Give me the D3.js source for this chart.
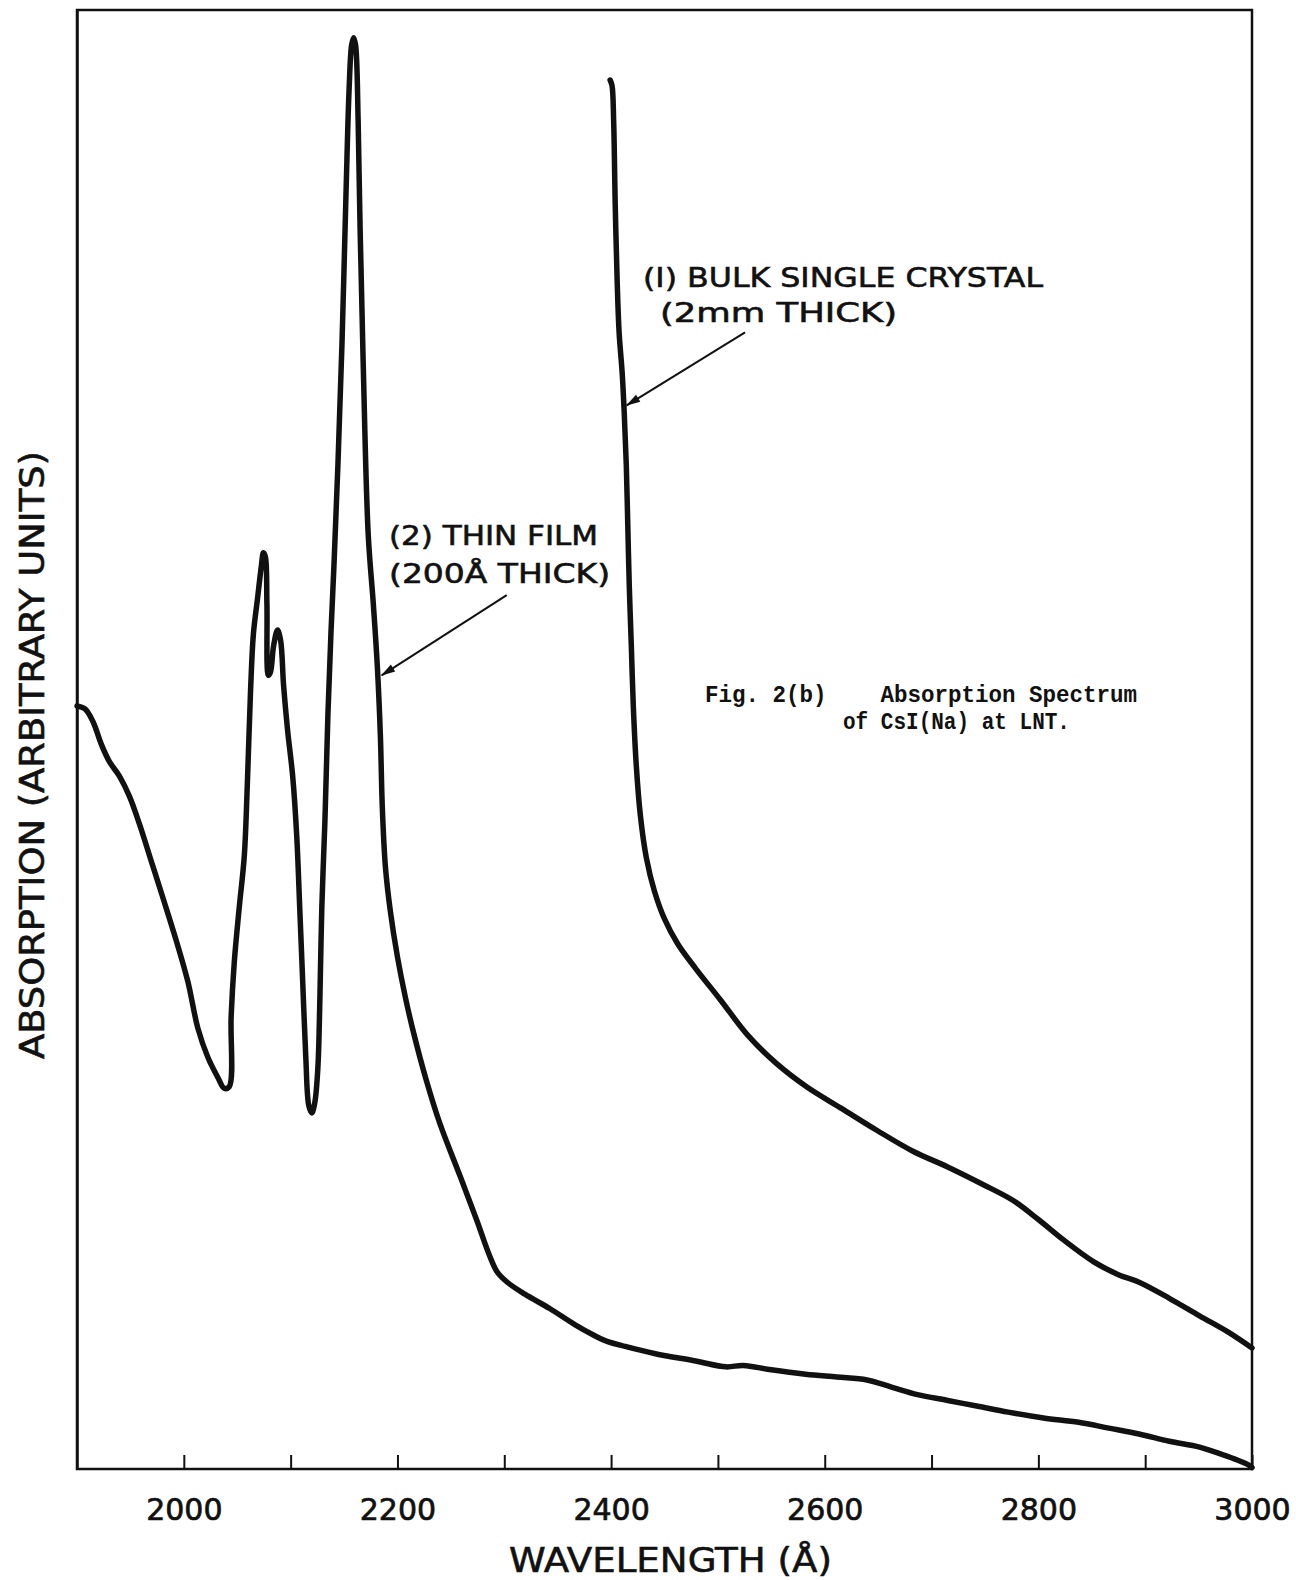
<!DOCTYPE html>
<html>
<head>
<meta charset="utf-8">
<script src="https://cdn.jsdelivr.net/npm/d3@7"></script>
<style>
  html, body { margin: 0; padding: 0; background: #fff; }
  svg { display: block; }
</style>
</head>
<body>
<div id="chart"></div>
<script>
// Absorption spectrum of CsI(Na) at liquid-nitrogen temperature.
// Wavelengths in Angstrom, absorption in arbitrary units (0 = baseline, 100 = top of frame).

// (2) thin film, 200 Å thick
const filmWavelength = [1900, 1907.5, 1915.1, 1922.6, 1930.2, 1939.6, 1949.1, 1958.5, 1969.8, 1981.1,
  1993.4, 2003.8, 2013.2, 2022.6, 2032.1, 2037.7, 2042.5, 2044.3, 2047.2, 2051.9,
  2056.6, 2059.4, 2062.3, 2065.1, 2068.9, 2072.6, 2074.5, 2076.4, 2077.8, 2079.2,
  2081.1, 2084.0, 2087.7, 2090.6, 2093.4, 2097.2, 2101.9, 2105.7, 2108.5, 2111.3,
  2114.2, 2117.0, 2119.8, 2122.6, 2125.5, 2127.4, 2129.2, 2132.1, 2134.9, 2137.7,
  2140.6, 2144.3, 2148.1, 2151.9, 2154.7, 2157.1, 2159.0, 2160.8, 2163.2, 2165.1,
  2167.9, 2172.6, 2177.4, 2181.1, 2184.0, 2185.8, 2188.7, 2193.4, 2200.0, 2207.5,
  2215.1, 2226.4, 2239.6, 2258.5, 2274.5, 2285.8, 2293.4, 2302.8, 2318.9, 2342.5,
  2366.0, 2383.0, 2394.3, 2413.2, 2441.5, 2479.2, 2507.5, 2523.6, 2550.0, 2582.1,
  2611.3, 2639.6, 2663.2, 2686.8, 2715.1, 2743.4, 2771.7, 2804.7, 2837.7, 2866.0,
  2894.3, 2922.6, 2950.9, 2971.7, 2986.8, 2996.2, 3000];
const filmAbsorption = [52.3, 52.1, 51.2, 49.7, 48.5, 47.5, 46.1, 44.2, 41.6, 39.0,
  36.1, 33.4, 30.2, 28.2, 26.8, 26.1, 26.2, 31.0, 34.7, 38.5,
  42.0, 46.8, 53.0, 57.2, 59.6, 61.9, 62.8, 62.5, 59.3, 54.4,
  54.6, 56.4, 57.5, 56.8, 53.7, 50.6, 47.5, 43.4, 38.5, 33.4,
  28.2, 24.9, 24.4, 25.1, 27.5, 32.3, 38.5, 44.4, 51.7, 57.2,
  62.0, 68.9, 77.2, 87.6, 94.5, 97.6, 98.1, 97.6, 92.4, 84.8,
  75.9, 64.1, 59.3, 55.1, 50.3, 45.4, 41.3, 38.2, 35.1, 32.3,
  29.9, 26.8, 23.7, 20.1, 17.0, 14.7, 13.5, 12.8, 12.0, 11.0,
  9.9, 9.2, 8.8, 8.4, 7.9, 7.4, 7.0, 7.1, 6.8, 6.5,
  6.3, 6.1, 5.6, 5.1, 4.7, 4.3, 3.9, 3.5, 3.2, 2.8,
  2.4, 1.9, 1.5, 1.0, 0.6, 0.3, 0.1];

// (1) bulk single crystal, 2 mm thick
const bulkWavelength = [2399.1, 2400.9, 2402.4, 2403.8, 2405.7, 2407.5, 2410.4, 2412.3, 2414.2, 2415.6,
  2417.0, 2418.9, 2420.8, 2423.6, 2427.4, 2433.0, 2440.6, 2450.0, 2462.3, 2479.2,
  2501.9, 2528.3, 2554.7, 2583.0, 2616.0, 2649.1, 2682.1, 2715.1, 2748.1, 2776.4,
  2800.0, 2823.6, 2851.9, 2875.5, 2894.3, 2922.6, 2950.9, 2977.4, 3000];
const bulkAbsorption = [95.2, 94.8, 92.4, 86.9, 81.4, 77.9, 75.1, 72.4, 68.9, 64.8,
  60.6, 56.5, 52.3, 48.2, 44.8, 41.9, 39.6, 37.7, 36.0, 34.3,
  32.2, 29.7, 27.8, 26.2, 24.7, 23.2, 21.8, 20.7, 19.5, 18.4,
  17.1, 15.7, 14.2, 13.3, 12.8, 11.7, 10.5, 9.4, 8.3];

// Axis ticks: minor marks every 100 Å, labels every 200 Å
const tickWavelengths = [2000, 2100, 2200, 2300, 2400, 2500, 2600, 2700, 2800, 2900, 3000];
const labelledWavelengths = [2000, 2200, 2400, 2600, 2800, 3000];

const xTitle = "WAVELENGTH (Å)";
const yTitle = "ABSORPTION (ARBITRARY UNITS)";
const captionLines = ["Fig. 2(b)    Absorption Spectrum", "of CsI(Na) at LNT."];

const W = 1296, H = 1580;
const margin = { top: 10, right: 44, bottom: 111, left: 77 };
const ink = "#111";
const letterFont = "'DejaVu Sans', sans-serif";

const svg = d3.select("#chart").append("svg")
  .attr("width", W).attr("height", H)
  .attr("viewBox", `0 0 ${W} ${H}`);

const x = d3.scaleLinear().domain([1900, 3000]).range([margin.left, W - margin.right]);
const y = d3.scaleLinear().domain([0, 100]).range([H - margin.bottom, margin.top]);

// frame
svg.append("rect")
  .attr("x", x(1900)).attr("y", y(100))
  .attr("width", x(3000) - x(1900)).attr("height", y(0) - y(100))
  .attr("fill", "none").attr("stroke", ink).attr("stroke-width", 2.5);

// bottom axis with inward ticks
const xAxis = d3.axisBottom(x)
  .tickValues(tickWavelengths)
  .tickSize(-14)
  .tickPadding(30)
  .tickFormat(d => labelledWavelengths.includes(d) ? String(d) : "");

const gx = svg.append("g")
  .attr("transform", `translate(0,${y(0)})`)
  .call(xAxis);
gx.select(".domain").remove();
gx.selectAll(".tick line").attr("stroke", ink).attr("stroke-width", 2);
gx.selectAll(".tick text")
  .attr("fill", ink)
  .attr("stroke", ink).attr("stroke-width", 0.7)
  .style("font-family", letterFont)
  .style("font-size", "30px");

// left axis: frame edge only, no ticks
const gy = svg.append("g")
  .attr("transform", `translate(${x(1900)},0)`)
  .call(d3.axisLeft(y).tickValues([]).tickSize(0));
gy.select(".domain").attr("stroke", ink).attr("stroke-width", 2.5);

// spectra
const line = d3.line()
  .x(d => x(d[0]))
  .y(d => y(d[1]))
  .curve(d3.curveCatmullRom.alpha(0.5));

const filmPoints = filmWavelength.map((w, i) => [w, filmAbsorption[i]]);
const bulkPoints = bulkWavelength.map((w, i) => [w, bulkAbsorption[i]]);

[filmPoints, bulkPoints].forEach(pts => {
  svg.append("path").datum(pts)
    .attr("d", line)
    .attr("fill", "none").attr("stroke", ink)
    .attr("stroke-width", 5.5).attr("stroke-linejoin", "round").attr("stroke-linecap", "round");
});

// axis titles
svg.append("text")
  .attr("x", (509 + 832) / 2).attr("y", 1572)
  .attr("text-anchor", "middle")
  .attr("textLength", 323).attr("lengthAdjust", "spacingAndGlyphs")
  .style("font-family", letterFont)
  .style("font-size", "34px")
  .attr("fill", ink).attr("stroke", ink).attr("stroke-width", 0.6)
  .text(xTitle);

svg.append("text")
  .attr("transform", "translate(44,755) rotate(-90)")
  .attr("text-anchor", "middle")
  .attr("textLength", 608).attr("lengthAdjust", "spacingAndGlyphs")
  .style("font-family", letterFont)
  .style("font-size", "34px")
  .attr("fill", ink).attr("stroke", ink).attr("stroke-width", 0.6)
  .text(yTitle);

// curve labels with arrows
const defs = svg.append("defs");
defs.append("marker")
  .attr("id", "arrowhead")
  .attr("viewBox", "0 -5 16 10")
  .attr("refX", 15).attr("refY", 0)
  .attr("markerUnits", "userSpaceOnUse")
  .attr("markerWidth", 17).attr("markerHeight", 9)
  .attr("orient", "auto")
  .append("path")
  .attr("d", "M0,-4.5L16,0L0,4.5Z")
  .attr("fill", ink);

const labels = [
  { text: "(I) BULK SINGLE CRYSTAL", wl: 2429.9, a: 81.0, len: 400 },
  { text: "(2mm THICK)", wl: 2445.8, a: 78.6, len: 237 },
  { text: "(2) THIN FILM", wl: 2192.1, a: 63.3, len: 209 },
  { text: "(200Å THICK)", wl: 2192.1, a: 60.7, len: 221 }
];
svg.selectAll("text.curve-label").data(labels).join("text")
  .attr("class", "curve-label")
  .attr("x", d => x(d.wl)).attr("y", d => y(d.a))
  .attr("textLength", d => d.len).attr("lengthAdjust", "spacingAndGlyphs")
  .style("font-family", letterFont)
  .style("font-size", "27px")
  .attr("fill", ink).attr("stroke", ink).attr("stroke-width", 0.6)
  .text(d => d.text);

const arrows = [
  { from: [2525.4, 77.9], to: [2414.6, 72.9] },
  { from: [2302.3, 59.9], to: [2185.2, 54.4] }
];
svg.selectAll("line.pointer").data(arrows).join("line")
  .attr("class", "pointer")
  .attr("x1", d => x(d.from[0])).attr("y1", d => y(d.from[1]))
  .attr("x2", d => x(d.to[0])).attr("y2", d => y(d.to[1]))
  .attr("stroke", ink).attr("stroke-width", 2)
  .attr("marker-end", "url(#arrowhead)");

// figure caption (typewritten)
const captionAnchors = [
  { wl: 2487.9, a: 52.6, len: 432 },
  { wl: 2617.1, a: 50.7, len: 227 }
];
svg.selectAll("text.caption").data(captionLines).join("text")
  .attr("class", "caption")
  .attr("x", (d, i) => x(captionAnchors[i].wl))
  .attr("y", (d, i) => y(captionAnchors[i].a))
  .attr("textLength", (d, i) => captionAnchors[i].len).attr("lengthAdjust", "spacingAndGlyphs")
  .style("font-family", "'Liberation Mono', 'DejaVu Sans Mono', monospace")
  .style("font-weight", "bold")
  .style("font-size", "23px")
  .style("white-space", "pre")
  .attr("xml:space", "preserve")
  .attr("fill", ink)
  .text(d => d);
</script>
</body>
</html>
